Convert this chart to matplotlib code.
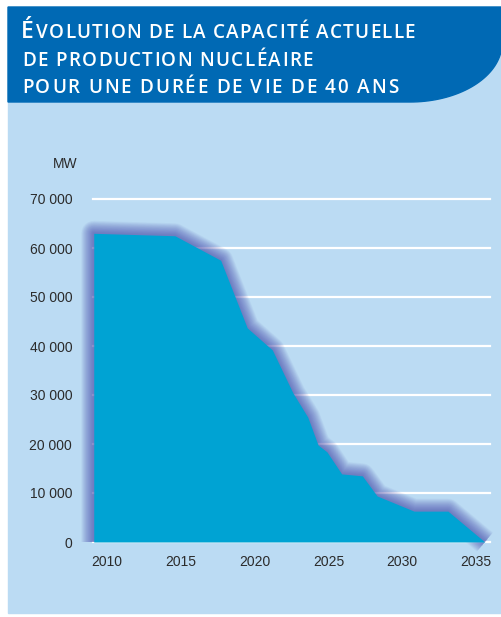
import numpy as np
import matplotlib
matplotlib.use("Agg")
import matplotlib.pyplot as plt
from matplotlib.patches import Polygon, Rectangle

# valeurs (MW)
annees = [2009.1, 2014.6, 2017.7, 2019.5, 2021.2, 2022.6, 2023.6, 2024.3, 2024.9,
          2025.9, 2027.3, 2028.3, 2030.8, 2033.1, 2035.6]
capacite = [63000, 62500, 57500, 43700, 39200, 30400, 25500, 19800, 18400,
            13900, 13500, 9400, 6300, 6300, 0]
yticks = [0, 10000, 20000, 30000, 40000, 50000, 60000, 70000]
xticks = [2010, 2015, 2020, 2025, 2030, 2035]
titre = ["VOLUTION DE LA CAPACITÉ ACTUELLE",
         "DE PRODUCTION NUCLÉAIRE",
         "POUR UNE DURÉE DE VIE DE 40 ANS"]

W, H = 502, 617
bleu_fond = "#bbdbf3"
bleu_titre = "#0069b4"
bleu_aire = "#00a3d3"
violet = "#4448ac"
gris = "#2b2b2b"

plt.rcParams['font.family'] = ['Liberation Sans', 'DejaVu Sans']

fig = plt.figure(figsize=(W / 100, H / 100), dpi=100)
fig.patch.set_facecolor("white")
renderer = fig.canvas.get_renderer()


def px(x, y):
    return (x / W, 1 - y / H)


def texte_espace(x_debut, x_fin, y, s, **kw):
    # place chaque lettre pour élargir l'interlettrage
    larg = []
    objs = []
    for c in s:
        t = fig.text(*px(0, y), c, **kw)
        w = t.get_window_extent(renderer).width if c != " " else None
        objs.append(t)
        larg.append(w)
    esp = fig.text(0, 0, "A A", **kw)
    sans = fig.text(0, 0, "AA", **kw)
    w_esp = esp.get_window_extent(renderer).width - sans.get_window_extent(renderer).width
    esp.remove()
    sans.remove()
    larg = [w_esp if w is None else w for w in larg]
    extra = (x_fin - x_debut - sum(larg)) / (len(s) - 1)
    x = x_debut
    for t, w in zip(objs, larg):
        t.set_position(px(x, y))
        x += w + extra


# panneau bleu clair
x0, y0 = px(8, 613)
fig.patches.append(Rectangle((x0, y0), (W - 8) / W, (613 - 7) / H,
                             transform=fig.transFigure, color=bleu_fond, zorder=0))

# bandeau du titre avec coin arrondi
t = np.linspace(0, -np.pi / 2, 40)
arc = [px(410 + 92 * np.cos(a), 43 - 59 * np.sin(a)) for a in t]
pts = [px(8, 7), px(502, 7)] + arc + [px(8, 102)]
fig.patches.append(Polygon(pts, closed=True, transform=fig.transFigure,
                           color=bleu_titre, zorder=1))

style = dict(color="white", family="Open Sans", fontweight="semibold",
             va="baseline", zorder=3)
fig.text(*px(21, 38), "É", fontsize=16.5, **style)
fins = [415, 313, 398]
for i, ligne in enumerate(titre):
    xs = 36 if i == 0 else 22
    texte_espace(xs, fins[i], 38 + 27.5 * i, ligne, fontsize=13.6, **style)

# axes
left, right, top, bottom = 93, 490, 199, 542
ax = fig.add_axes([left / W, 1 - bottom / H, (right - left) / W, (bottom - top) / H])
ax.set_zorder(5)
ax.set_facecolor("none")
ax.set_xlim(2009.05, 2035.95)
ax.set_ylim(0, 70000)

for v in yticks:
    ax.axhline(v, color="white", lw=1.6, zorder=1, clip_on=False)

# halo violet autour de l'aire
xs_l = [annees[0]] + annees
ys_l = [0] + capacite
for lw in np.linspace(18, 1, 22):
    ax.plot(xs_l, ys_l, color=violet, lw=lw, alpha=0.04, solid_joinstyle="round",
            solid_capstyle="butt", zorder=2, clip_on=False)

ax.fill_between(annees, capacite, 0, color=bleu_aire, lw=0, zorder=3)

for s in ax.spines.values():
    s.set_visible(False)
ax.set_yticks(yticks)
ax.set_yticklabels([f"{v:,}".replace(",", " ") for v in yticks])
ax.set_xticks(xticks)
ax.tick_params(length=0, labelsize=10, labelcolor=gris)
ax.tick_params(axis="y", pad=15)
ax.tick_params(axis="x", pad=9)

fig.text(*px(78, 168), "MW", ha="right", va="baseline", fontsize=10, color=gris,
         zorder=6)

fig.savefig("out.png", dpi=100, facecolor=fig.get_facecolor())
